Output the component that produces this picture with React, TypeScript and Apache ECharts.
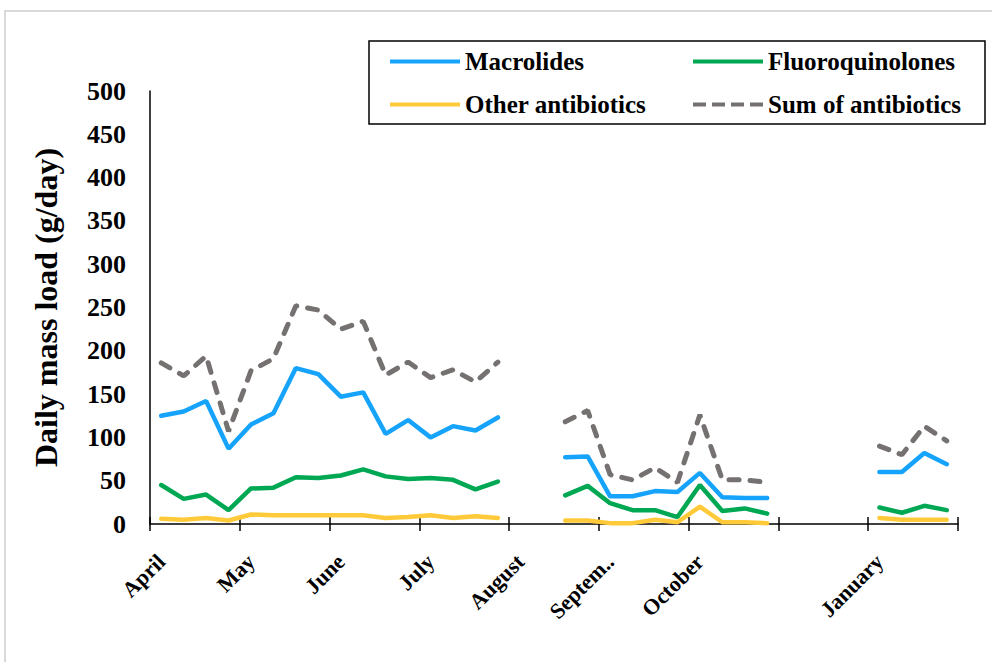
import React, { useEffect, useRef } from "react";
import * as echarts from "echarts";

const monthLabels = ["April", "May", "June", "July", "August", "Septem..", "October", "", "January"];
const weeksPerMonth = 4;
const categories: string[] = [];
monthLabels.forEach((m, mi) => {
  for (let w = 1; w <= weeksPerMonth; w++) categories.push(`${m || "M" + mi}-W${w}`);
});

const macrolides = [125, 130, 142, 87, 115, 128, 180, 173, 147, 152, 104, 120, 100, 113, 108, 123,
  null, null, 77, 78, 32, 32, 38, 37, 59, 31, 30, 30,
  null, null, null, null, 60, 60, 82, 69];
const fluoroquinolones = [45, 29, 34, 16, 41, 42, 54, 53, 56, 63, 55, 52, 53, 51, 40, 49,
  null, null, 33, 44, 24, 16, 16, 8, 45, 15, 18, 12,
  null, null, null, null, 19, 13, 21, 16];
const otherAntibiotics = [6, 5, 7, 4, 11, 10, 10, 10, 10, 10, 7, 8, 10, 7, 9, 7,
  null, null, 4, 4, 1, 1, 5, 2, 20, 2, 2, 1,
  null, null, null, null, 7, 5, 5, 5];
const sumAntibiotics = [186, 171, 194, 107, 177, 191, 252, 247, 225, 234, 172, 187, 169, 178, 164, 187,
  null, null, 118, 131, 57, 51, 65, 48, 126, 51, 51, 48,
  null, null, null, null, 90, 80, 113, 96];

const yTicks = { min: 0, max: 500, interval: 50 };

const FONT = "Liberation Serif";
const DASH_ICON = "path://M0,0h13v4h-13z M19,0h13v4h-13z M38,0h13v4h-13z M57,0h13v4h-13z";

export default function App() {
  const ref = useRef<HTMLDivElement>(null);
  useEffect(() => {
    if (!ref.current) return;
    const chart = echarts.init(ref.current, null, { renderer: "svg" });
    const legendText = { fontFamily: FONT, fontWeight: "bold", fontSize: 25, color: "#000" };
    const mkSeries = (name: string, data: (number | null)[], color: string, dashed = false) => ({
      name,
      type: "line",
      data,
      xAxisIndex: 0,
      symbol: "none",
      connectNulls: false,
      lineStyle: dashed
        ? { color, width: 5, type: [10, 11], cap: "round" }
        : { color, width: 4.5, cap: "round" },
      itemStyle: { color },
      z: dashed ? 1 : 2,
    });
    const legendBase = {
      orient: "vertical",
      top: 49,
      padding: 0,
      itemGap: 18,
      itemWidth: 70,
      itemHeight: 4,
      textStyle: legendText,
    };
    chart.setOption({
      animation: false,
      backgroundColor: "#fff",
      textStyle: { fontFamily: FONT },
      grid: { left: 150, right: 34, top: 91, bottom: 138, containLabel: false },
      legend: [
        {
          ...legendBase,
          left: 390,
          data: [
            { name: "Macrolides", icon: "rect" },
            { name: "Other antibiotics", icon: "rect" },
          ],
        },
        {
          ...legendBase,
          left: 693,
          data: [
            { name: "Fluoroquinolones", icon: "rect" },
            { name: "Sum of antibiotics", icon: DASH_ICON },
          ],
        },
      ],
      graphic: [
        {
          type: "rect",
          shape: { x: 5, y: 11, width: 1100, height: 800 },
          style: { fill: "none", stroke: "#d9d9d9", lineWidth: 2 },
          silent: true,
          z: -10,
        },
        {
          type: "rect",
          shape: { x: 369, y: 41, width: 616, height: 83 },
          style: { fill: "none", stroke: "#000", lineWidth: 1.5 },
          silent: true,
        },
      ],
      xAxis: [
        {
          type: "category",
          data: categories,
          boundaryGap: true,
          position: "bottom",
          axisLine: { show: true, lineStyle: { color: "#000", width: 1.5 } },
          axisTick: { show: true, interval: 3, length: 7, lineStyle: { color: "#000", width: 1.5 } },
          axisLabel: {
            interval: 3,
            rotate: 45,
            margin: 34,
            fontFamily: FONT,
            fontWeight: "bold",
            fontSize: 22,
            color: "#000",
            formatter: (_v: string, idx: number) => monthLabels[Math.floor(idx / weeksPerMonth)],
          },
          splitLine: { show: false },
        },
        {
          type: "category",
          data: categories,
          boundaryGap: true,
          position: "bottom",
          axisLine: { show: false },
          axisTick: { show: true, inside: true, interval: 3, length: 7, lineStyle: { color: "#000", width: 1.5 } },
          axisLabel: { show: false },
          splitLine: { show: false },
        },
      ],
      yAxis: {
        type: "value",
        min: yTicks.min,
        max: yTicks.max,
        interval: yTicks.interval,
        name: "Daily mass load (g/day)",
        nameLocation: "middle",
        nameGap: 88,
        nameTextStyle: { fontFamily: FONT, fontWeight: "bold", fontSize: 32, color: "#000" },
        axisLine: { show: true, lineStyle: { color: "#000", width: 1.5 } },
        axisTick: { show: false },
        splitLine: { show: false },
        axisLabel: { margin: 24, fontFamily: FONT, fontWeight: "bold", fontSize: 26, color: "#000" },
      },
      series: [
        mkSeries("Sum of antibiotics", sumAntibiotics, "#767171", true),
        mkSeries("Macrolides", macrolides, "#16a3fb"),
        mkSeries("Fluoroquinolones", fluoroquinolones, "#00a854"),
        mkSeries("Other antibiotics", otherAntibiotics, "#ffca3a"),
      ],
    });
    return () => chart.dispose();
  }, []);
  return (
    <div
      ref={ref}
      style={{ position: "absolute", left: 0, top: 0, width: 992, height: 662, background: "#fff" }}
    />
  );
}
